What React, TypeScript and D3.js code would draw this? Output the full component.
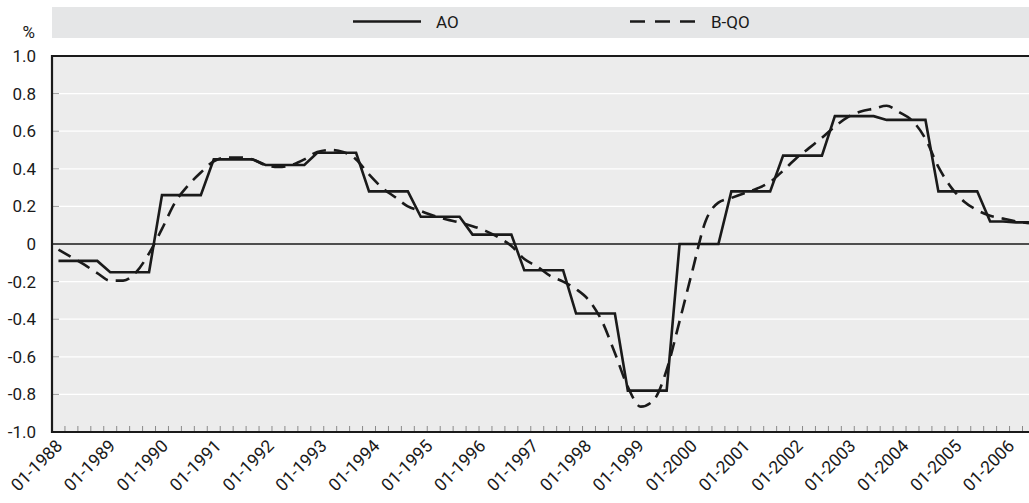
import React from "react";
import * as d3 from "d3";

const years = [1988, 1989, 1990, 1991, 1992, 1993, 1994, 1995, 1996, 1997, 1998, 1999, 2000, 2001, 2002, 2003, 2004, 2005, 2006];
const quarterNames = ["Q1", "Q2", "Q3", "Q4"];
const categories = years.flatMap((y) => quarterNames.map((q) => `${y}-${q}`));

const seriesAO = [
  -0.09, -0.09, -0.09, -0.09,
  -0.15, -0.15, -0.15, -0.15,
  0.26, 0.26, 0.26, 0.26,
  0.45, 0.45, 0.45, 0.45,
  0.42, 0.42, 0.42, 0.42,
  0.485, 0.485, 0.485, 0.485,
  0.28, 0.28, 0.28, 0.28,
  0.145, 0.145, 0.145, 0.145,
  0.05, 0.05, 0.05, 0.05,
  -0.14, -0.14, -0.14, -0.14,
  -0.37, -0.37, -0.37, -0.37,
  -0.78, -0.78, -0.78, -0.78,
  0.0, 0.0, 0.0, 0.0,
  0.28, 0.28, 0.28, 0.28,
  0.47, 0.47, 0.47, 0.47,
  0.68, 0.68, 0.68, 0.68,
  0.66, 0.66, 0.66, 0.66,
  0.28, 0.28, 0.28, 0.28,
  0.12, 0.12, 0.115, 0.115,
];

const seriesBQO = [
  -0.03, -0.07, -0.11, -0.155,
  -0.195, -0.195, -0.15, -0.05,
  0.08, 0.22, 0.31, 0.38,
  0.44, 0.46, 0.46, 0.45,
  0.42, 0.41, 0.42, 0.45,
  0.49, 0.5, 0.49, 0.45,
  0.37, 0.3, 0.25, 0.2,
  0.175, 0.15, 0.13, 0.115,
  0.095, 0.07, 0.035, -0.01,
  -0.08, -0.12, -0.17, -0.2,
  -0.24, -0.3, -0.41, -0.58,
  -0.76, -0.865, -0.83, -0.67,
  -0.41, -0.14, 0.12, 0.22,
  0.245, 0.27, 0.295, 0.33,
  0.39, 0.455, 0.51, 0.565,
  0.625, 0.675, 0.705, 0.72,
  0.735, 0.7, 0.655, 0.56,
  0.41, 0.3, 0.225, 0.18,
  0.15, 0.135, 0.12, 0.11,
];

const yTicks = [-1.0, -0.8, -0.6, -0.4, -0.2, 0, 0.2, 0.4, 0.6, 0.8, 1.0];
const yTickLabels = ["-1.0", "-0.8", "-0.6", "-0.4", "-0.2", "0", "0.2", "0.4", "0.6", "0.8", "1.0"];
const legendNames = ["AO", "B-QO"];
const unitLabel = "%";

const W = 1029;
const H = 503;
const FONT = "Roboto, 'Liberation Sans', sans-serif";

export default function App() {
  const left = 52;
  const step = 12.94;
  const right = left + categories.length * step;
  const top = 56;
  const bottom = 432;

  const x = d3.scaleBand<string>().domain(categories).range([left, right]).padding(0);
  const y = d3.scaleLinear().domain([-1, 1]).range([bottom, top]);
  const cx = (c: string) => (x(c) as number) + x.bandwidth() / 2;
  // year label anchor positions (labels are spaced slightly wider than the quarter grid)
  const xLabel = d3.scalePoint<number>().domain(years).range([63.5, 1015.5]);

  const lineAO = d3
    .line<number>()
    .x((_, i) => cx(categories[i]))
    .y((d) => y(d))
    .curve(d3.curveLinear);
  const lineBQO = d3
    .line<number>()
    .x((_, i) => cx(categories[i]))
    .y((d) => y(d))
    .curve(d3.curveMonotoneX);

  const textColor = "#1a1a1a";
  const fs = 17;

  return (
    <svg
      width={W}
      height={H}
      style={{ position: "absolute", left: 0, top: 0, background: "#fff" }}
      fontFamily={FONT}
    >
      {/* legend band */}
      <rect x={left} y={7} width={W - left} height={31} fill="#e5e6e7" />
      <line x1={353} x2={421} y1={21.5} y2={21.5} stroke="#1a1a1a" strokeWidth={2.6} />
      <text x={436} y={28} fontSize={fs} fill={textColor}>{legendNames[0]}</text>
      <line x1={630} x2={695} y1={21.5} y2={21.5} stroke="#1a1a1a" strokeWidth={2.6} strokeDasharray="15,10" />
      <text x={711} y={28} fontSize={fs} fill={textColor}>{legendNames[1]}</text>

      <text x={35} y={38} fontSize={fs} textAnchor="end" fill={textColor}>{unitLabel}</text>

      {/* plot background */}
      <rect x={left} y={top} width={right - left} height={bottom - top} fill="#ececec" />

      {/* gridlines */}
      {yTicks.map((t, i) =>
        t !== 0 && Math.abs(t) !== 1 ? (
          <g key={"g" + i}>
            <line x1={left} x2={right} y1={y(t)} y2={y(t)} stroke="#ffffff" strokeWidth={1.2} />
            <line x1={left} x2={left + 7} y1={y(t)} y2={y(t)} stroke="#9a9a9a" strokeWidth={1} />
          </g>
        ) : null
      )}

      {/* x minor ticks at band boundaries */}
      {categories.slice(1).map((c) => (
        <line
          key={"t" + c}
          x1={x(c) as number}
          x2={x(c) as number}
          y1={bottom - 6}
          y2={bottom}
          stroke="#8a8a8a"
          strokeWidth={1}
        />
      ))}

      {/* zero line */}
      <line x1={left} x2={right} y1={y(0)} y2={y(0)} stroke="#1a1a1a" strokeWidth={1.6} />

      {/* frame */}
      <line x1={left} x2={right} y1={top} y2={top} stroke="#1a1a1a" strokeWidth={2.2} />
      <line x1={left} x2={right} y1={bottom} y2={bottom} stroke="#1a1a1a" strokeWidth={2.2} />
      <line x1={left} x2={left} y1={top - 1} y2={bottom + 1} stroke="#1a1a1a" strokeWidth={2.2} />

      {/* series */}
      <path d={lineBQO(seriesBQO) || ""} fill="none" stroke="#1a1a1a" strokeWidth={2.6} strokeDasharray="14,8" />
      <path d={lineAO(seriesAO) || ""} fill="none" stroke="#1a1a1a" strokeWidth={2.6} strokeLinejoin="miter" />

      {/* y labels */}
      {yTicks.map((t, i) => (
        <text key={"yl" + i} x={36} y={y(t) + 6} fontSize={fs} textAnchor="end" fill={textColor}>
          {yTickLabels[i]}
        </text>
      ))}

      {/* x labels */}
      {years.map((yr) => {
        const px = xLabel(yr) as number;
        const py = 447;
        return (
          <text
            key={"xl" + yr}
            x={px}
            y={py}
            fontSize={17.5}
            textAnchor="end"
            fill={textColor}
            transform={`rotate(-45, ${px}, ${py})`}
          >
            {`01-${yr}`}
          </text>
        );
      })}
    </svg>
  );
}
